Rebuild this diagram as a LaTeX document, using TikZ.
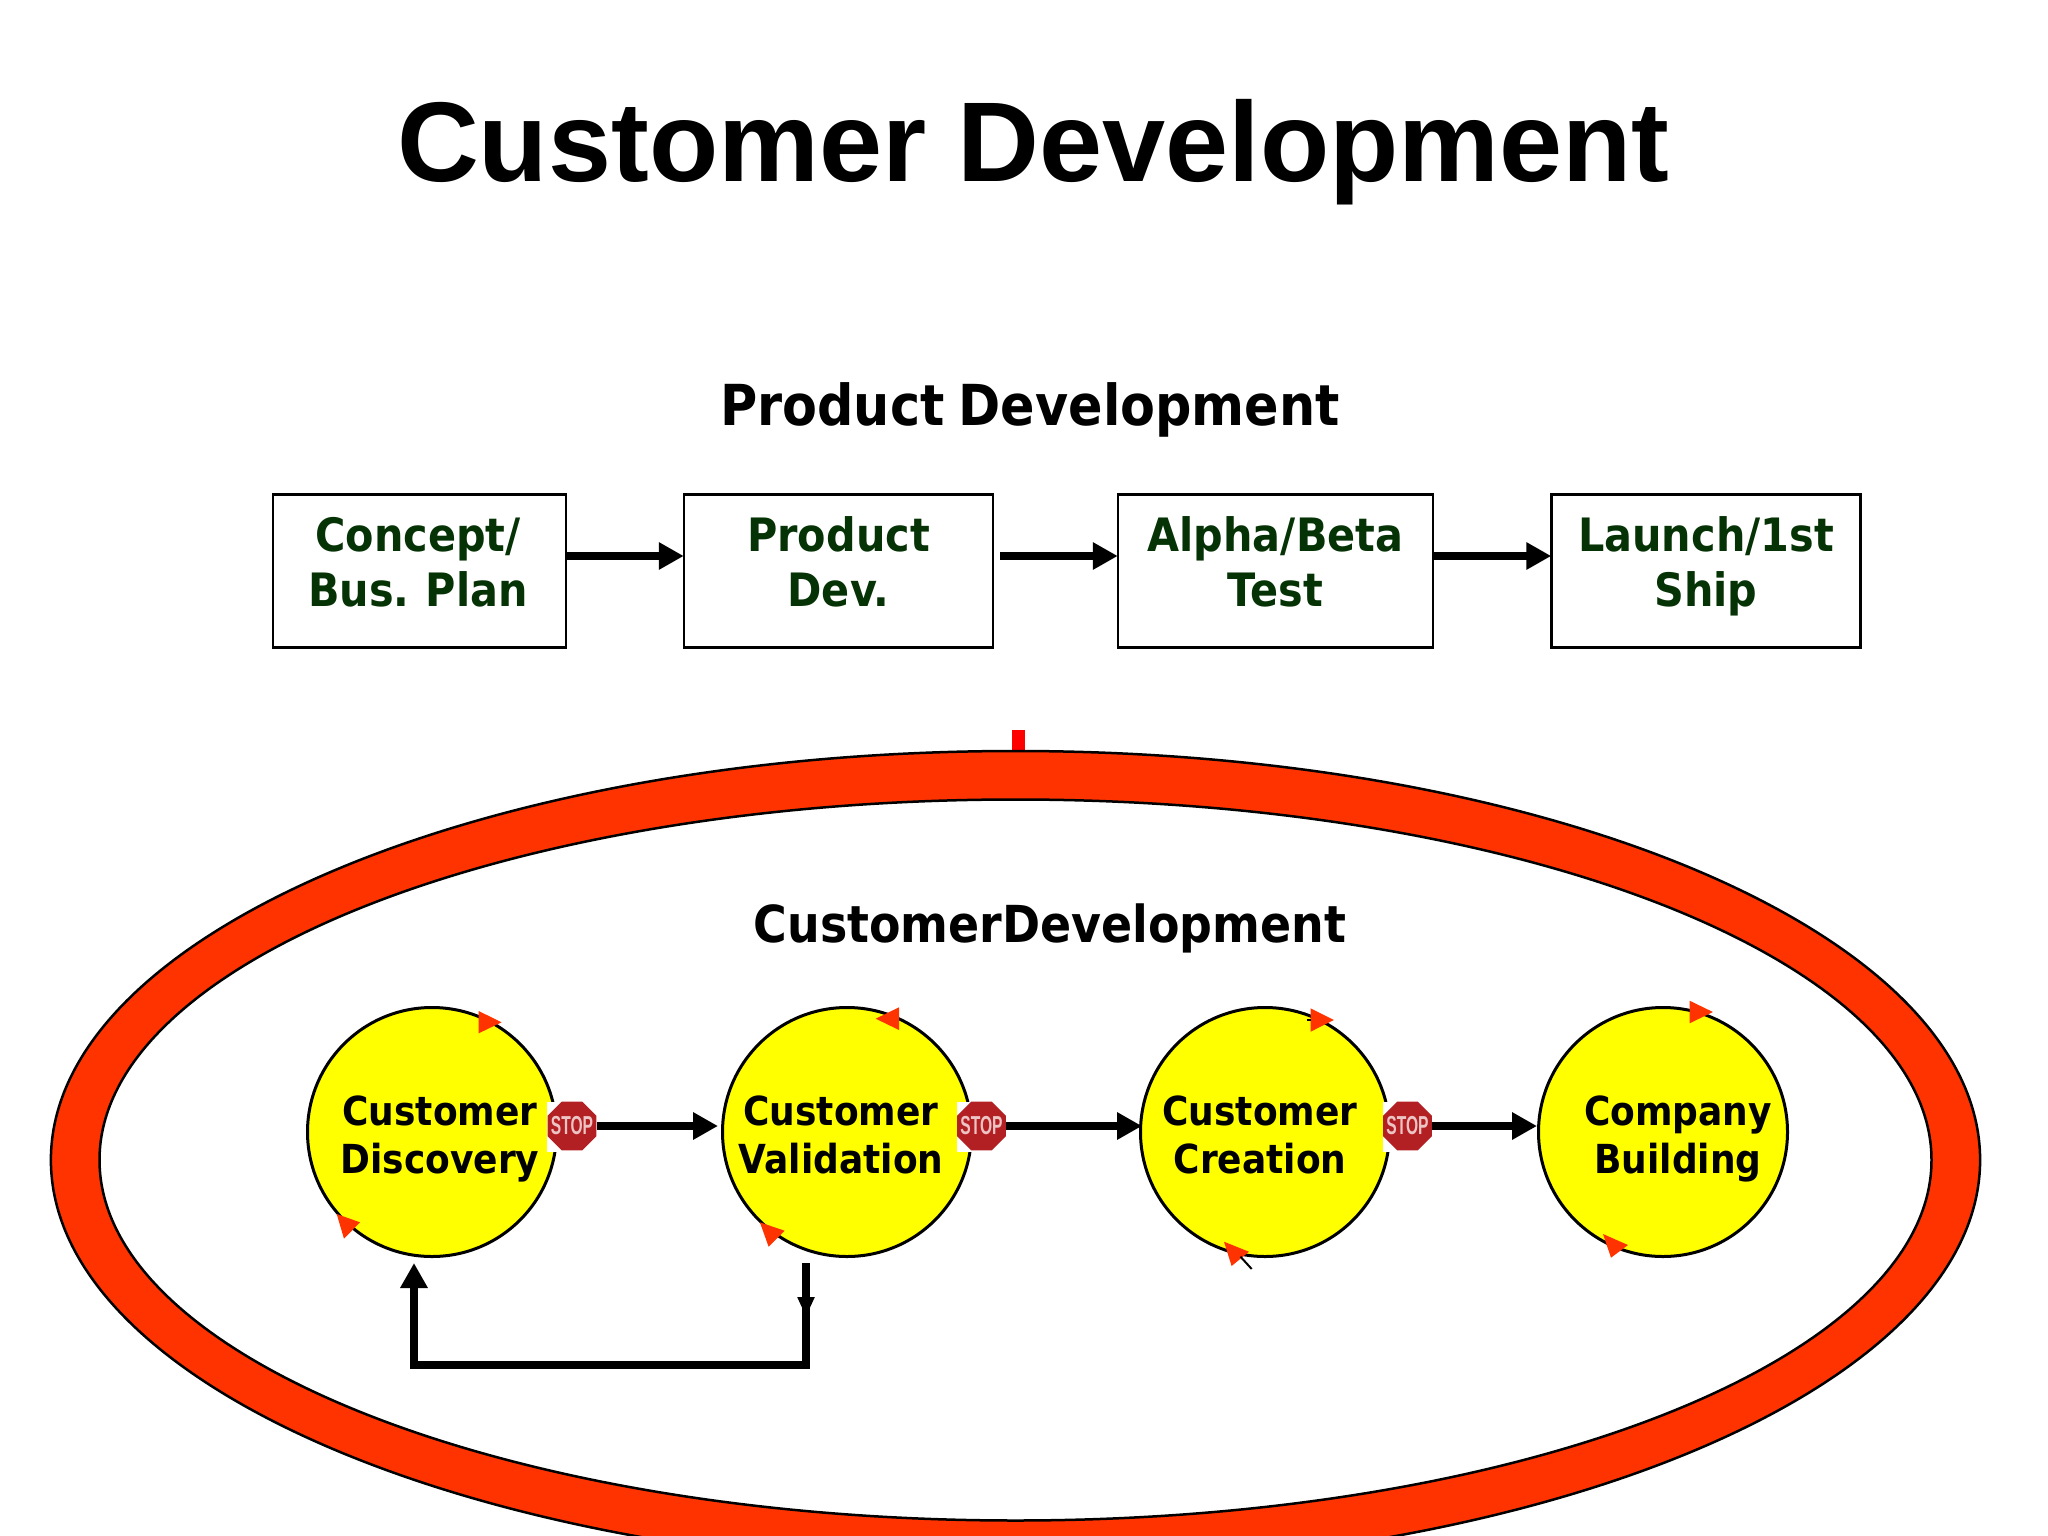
\documentclass[tikz,border=0pt]{standalone}
\usepackage{fontspec}
\setmainfont{Liberation Sans}
\newfontfamily\tahoma{DejaVu Sans}[FakeStretch=0.9, WordSpace=0.8]
\newfontfamily\stopfont{Liberation Sans}[FakeStretch=0.6]
\usetikzlibrary{positioning, calc, arrows.meta, shapes.geometric}
\definecolor{ringred}{HTML}{FF3300}
\definecolor{boxgreen}{HTML}{063306}
\definecolor{stopred}{HTML}{B32024}
\definecolor{stoppink}{HTML}{EDC4C4}
\definecolor{phaseyellow}{RGB}{255,255,0}
\tikzset{
	phase/.style={circle, draw, line width=3pt, fill=phaseyellow, minimum size=249pt, inner sep=0pt},
	phasetext/.style={font=\tahoma\bfseries\fontsize{40}{48}\selectfont, align=center, inner sep=0pt, text depth=0pt},
	stage/.style={draw, line width=2.5pt, fill=white, minimum height=153pt, inner sep=0pt},
	stagetext/.style={font=\tahoma\bfseries\fontsize{46}{55}\selectfont, text=boxgreen, align=center, inner sep=0pt, text depth=0pt},
	stopbox/.style={fill=white, minimum width=50pt, minimum height=50pt, inner sep=0pt},
	stopsign/.style={regular polygon, regular polygon sides=8, fill=stopred, minimum size=53pt, inner sep=0pt,
		label={[text=stoppink, inner sep=0pt, font=\stopfont\bfseries\fontsize{26}{26}\selectfont]center:STOP}},
	flow/.style={line width=8.5pt, -{Triangle[length=25pt,width=26pt]}},
}
\begin{document}
\begin{tikzpicture}[x=1pt, y=-1pt]
	\useasboundingbox (0,0) rectangle (2048,1536);
	\fill[white] (0,0) rectangle (2048,1536);

	\node[font=\bfseries\fontsize{113.4}{113}\selectfont, inner sep=0pt] (title) at (1033.5,152) {Customer Development};
	\node[font=\tahoma\bfseries\fontsize{56.5}{56}\selectfont, inner sep=0pt] (pdtitle) at (1030,409.5) {Product Development};

	% top row
	\node[stage, minimum width=293pt] (concept) at (419.5,571) {};
	\node[stage, minimum width=309pt] (product) at (838.5,571) {};
	\node[stage, minimum width=315pt] (alpha)   at (1275.5,571) {};
	\node[stage, minimum width=309pt] (launch)  at (1706,571) {};
	\node[stagetext] at (418,561.5) {Concept/\\Bus. Plan};
	\node[stagetext] at (838.5,561.5) {Product\\Dev.};
	\node[stagetext] at (1275.5,561.5) {Alpha/Beta\\Test};
	\node[stagetext] at (1706,561.5) {Launch/1st\\Ship};

	\draw[flow, shorten >=-1pt] ([yshift=15pt]concept.east) -- ([yshift=15pt]product.west);
	\draw[flow, shorten <=6pt, shorten >=-1pt] ([yshift=15pt]product.east) -- ([yshift=15pt]alpha.west);
	\draw[flow, shorten >=-1pt] ([yshift=15pt]alpha.east) -- ([yshift=15pt]launch.west);

	% the ring
	\fill[red] (1012,730) rectangle (1025,752);
	\coordinate (ringc) at (1015.5,1160);
	\path[draw=black, line width=2.5pt, fill=ringred, even odd rule]
		(ringc) ellipse [x radius=964.6, y radius=409]
		(ringc) ellipse [x radius=916, y radius=360.5];
	\node[font=\tahoma\bfseries\fontsize{51}{51}\selectfont, inner sep=0pt] (cdtitle) at (1050,928) {CustomerDevelopment};

	% four phases
	\node[phase] (discovery)  at (432,1132) {};
	\node[phase] (validation) at (847,1132) {};
	\node[phase] (creation)   at (1265,1132) {};
	\node[phase] (building)   at (1663,1132) {};
	\node[phasetext] at (440,1135) {Customer\\Discovery};
	\node[phasetext] at (841,1135) {Customer\\Validation};
	\node[phasetext] at (1260,1135) {Customer\\Creation};
	\node[phasetext] at (1678,1135) {Company\\Building};

	\node[stopbox] at (572,1126.5) {};
	\node[stopbox] at (981.5,1126.5) {};
	\node[stopbox] at (1407.5,1126.5) {};
	\node[stopsign] (stopa) at (572,1126) {};
	\node[stopsign] (stopb) at (981.5,1126) {};
	\node[stopsign] (stopc) at (1407.5,1126) {};

	\draw[flow, shorten >=3pt] (stopa.east) -- (stopa.east -| validation.west);
	\draw[flow, shorten >=-3pt] (stopb.east) -- (stopb.east -| creation.west);
	\draw[flow, shorten >=0pt] (stopc.east) -- (stopc.east -| building.west);

	% loop back
	\coordinate (loopstart) at (806,1263);
	\coordinate (looptip)   at (806,1317);
	\coordinate (loopright) at (806,1365);
	\coordinate (loopleft)  at (414,1365);
	\coordinate (loopend)   at (414,1263);
	\draw[line width=8pt, shorten >=-4pt] (loopstart) -- (loopright);
	\draw[line width=8pt] (loopright) -- (loopleft);
	\draw[line width=8pt, -{Triangle[length=20pt,width=16pt]}] (loopstart) -- (looptip);
	\draw[flow, shorten <=-4pt] (loopleft) -- (loopend);

	% small turning marks
	\foreach \ax/\ay/\bx/\by/\cx/\cy in {
		478.7/1011/501.5/1022.3/478.7/1033.3,
		336.7/1214/360/1222.3/344/1238.7,
		899/1007.3/875.7/1018.7/899/1030,
		759.9/1222.3/784.6/1230.7/768.6/1246.7,
		1310.6/1008.3/1333.8/1020/1310.6/1031.7,
		1224/1241.7/1249/1251.7/1231.6/1266,
		1689.6/1000.7/1712.9/1012/1689.6/1023.3,
		1603/1234/1628/1245/1611/1257.7}
		\fill[ringred] (\ax,\ay) -- (\bx,\by) -- (\cx,\cy) -- cycle;
	\draw[line width=2pt] (1240.5,1256.7) -- (1251.7,1269);
	\draw[line width=2pt] (1306.5,1020) -- (1310.6,1020);
\end{tikzpicture}
\end{document}
